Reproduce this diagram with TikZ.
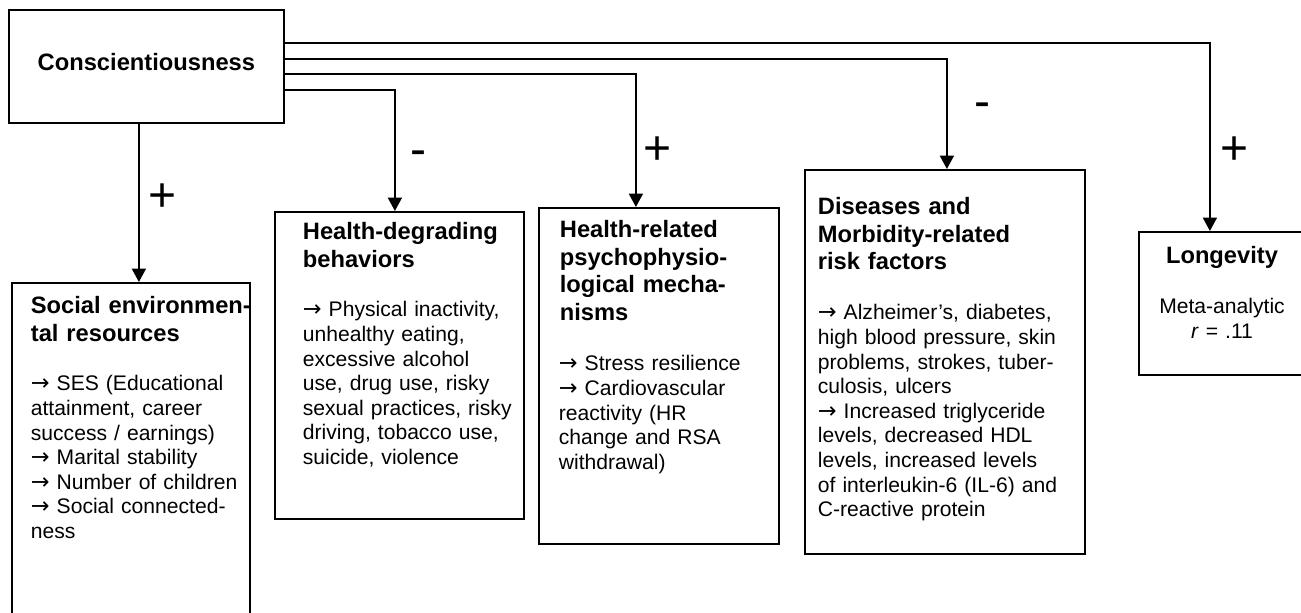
\documentclass[tikz,border=0pt]{standalone}
\usepackage{fontspec}
\setmainfont{Liberation Sans}
\newfontfamily\arrfont{DejaVu Sans}
\newcommand{\rarr}{{\arrfont\fontsize{11.2pt}{12.3pt}\selectfont →}}
\usetikzlibrary{arrows.meta}

\begin{document}
\begin{tikzpicture}[
  x=0.5pt,
  y=-0.5pt,
  line width=0.9pt,
  box/.style={
    draw,
    anchor=north west,
    inner sep=0pt
  },
  ttl/.style={anchor=base west, inner sep=0pt, align=left, text width=150pt,
    font=\fontsize{11.85pt}{13.75pt}\selectfont\bfseries},
  txt/.style={anchor=base west, inner sep=0pt, align=left, text width=150pt,
    font=\fontsize{10.55pt}{12.3pt}\selectfont},
  sign/.style={inner sep=0pt, font=\fontsize{24pt}{24pt}\selectfont},
  link/.style={-{Triangle[length=6.7pt,width=7pt]}}
]
\useasboundingbox (0,0) rectangle (1301,613);

% boxes
\node[box, minimum width=137.5pt, minimum height=56.5pt, text depth=4pt,
  font=\fontsize{11.85pt}{13.75pt}\selectfont\bfseries] (con) at (8,9) {Conscientiousness};
\node[box, minimum width=119pt, minimum height=171.5pt] (socl) at (11,282) {};
\node[box, minimum width=124.5pt, minimum height=153.5pt] (degr) at (274,211) {};
\node[box, minimum width=120pt, minimum height=168pt] (hrel) at (538,207) {};
\node[box, minimum width=140pt, minimum height=192pt] (dis) at (804,169) {};
\node[box, minimum width=84pt, minimum height=71.5pt] (longev) at (1138,231) {};

% box texts
\node[ttl] (soclttl) at (30,314) {Social environmen-\\tal resources};
\node[txt] (socltxt) at (30,391) {\rarr{} SES (Educational\\attainment, career\\success / earnings)\\\rarr{} Marital stability\\\rarr{} Number of children\\\rarr{} Social connected-\\ness};

\node[ttl] (degrttl) at (302,240) {Health-degrading\\behaviors};
\node[txt] (degrtxt) at (302,317) {\rarr{} Physical inactivity,\\unhealthy eating,\\excessive alcohol\\use, drug use, risky\\sexual practices, risky\\driving, tobacco use,\\suicide, violence};

\node[ttl] (hrelttl) at (559,238) {Health-related\\psychophysio-\\logical mecha-\\nisms};
\node[txt] (hreltxt) at (558,371) {\rarr{} Stress resilience\\\rarr{} Cardiovascular\\reactivity (HR\\change and RSA\\withdrawal)};

\node[ttl] (disttl) at (817,215) {Diseases and\\Morbidity-related\\risk factors};
\node[txt] (distxt) at (817,320) {\rarr{} Alzheimer’s, diabetes,\\high blood pressure, skin\\problems, strokes, tuber-\\culosis, ulcers\\\rarr{} Increased triglyceride\\levels, decreased HDL\\levels, increased levels\\of interleukin-6 (IL-6) and\\C-reactive protein};

\node[ttl, anchor=base, align=center, text width=80pt] (longttl) at (1222,264) {Longevity};
\node[txt, anchor=base, align=center, text width=80pt] (longtxt) at (1222,314) {Meta-analytic\\\textit{r} = .11};

% signs
\node[sign] (sgnsocl) at (163,198) {+};
\node[sign] (sgndegr) at (418,158) {-};
\node[sign] (sgnhrel) at (658,151) {+};
\node[sign] (sgndis) at (982,110) {-};
\node[sign] (sgnlong) at (1235,151) {+};

% connectors
\draw[link] ([yshift=11.75pt]con.east) -| ([xshift=-6.5pt]longev.north);
\draw[link] ([yshift=3.75pt]con.east) -| ([xshift=1pt]dis.north);
\draw[link] ([yshift=-3.75pt]con.east) -| ([xshift=-11.5pt]hrel.north);
\draw[link] ([yshift=-11.75pt]con.east) -| ([xshift=-2.25pt]degr.north);
\draw[link] ([xshift=-3.75pt]con.south) -- ([xshift=4pt]socl.north);

\end{tikzpicture}
\end{document}
